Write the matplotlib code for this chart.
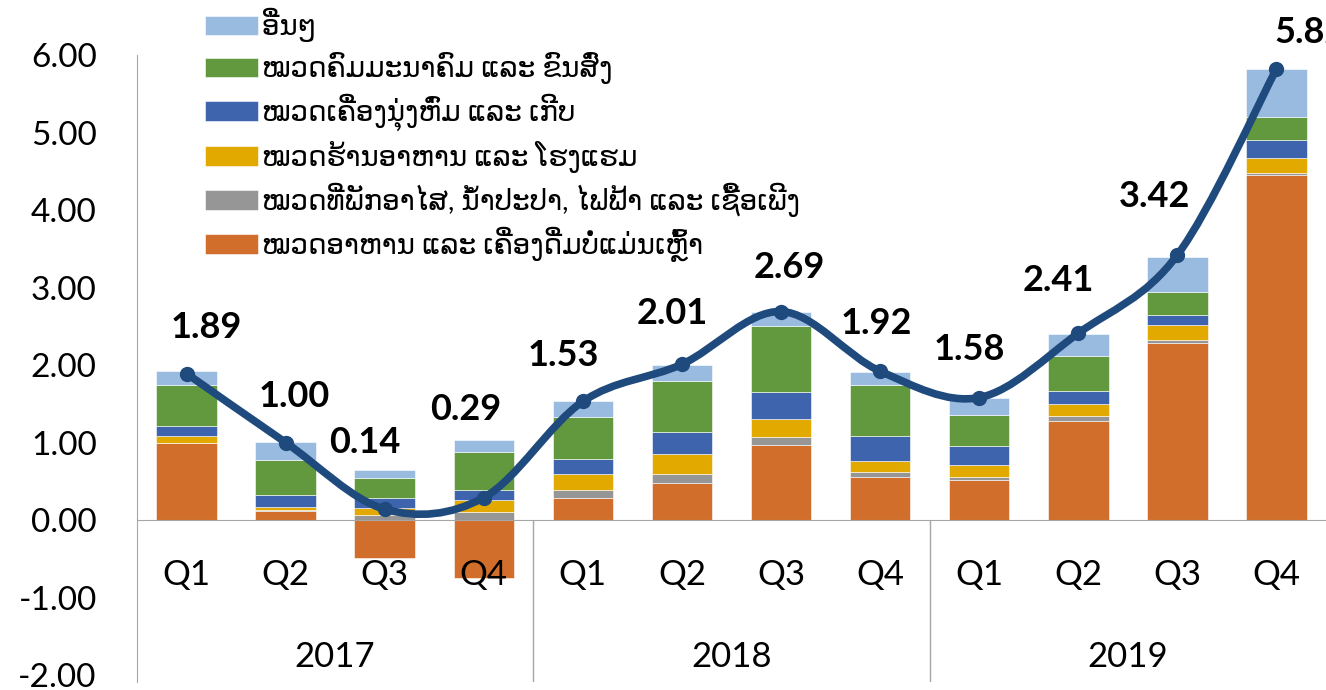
import matplotlib.pyplot as plt
from matplotlib.path import Path
from matplotlib.patches import PathPatch
import numpy as np

# categories
quarters = ['Q1', 'Q2', 'Q3', 'Q4'] * 3
years = ['2017', '2018', '2019']

# contributions per group
food = [0.99, 0.12, -0.49, -0.75, 0.28, 0.48, 0.97, 0.55, 0.51, 1.28, 2.29, 4.45]
housing = [0.00, 0.01, 0.06, 0.10, 0.11, 0.11, 0.10, 0.07, 0.05, 0.06, 0.03, 0.03]
restaurants = [0.10, 0.04, 0.10, 0.16, 0.21, 0.26, 0.23, 0.14, 0.15, 0.16, 0.19, 0.19]
clothing = [0.12, 0.15, 0.12, 0.13, 0.19, 0.29, 0.35, 0.33, 0.25, 0.16, 0.14, 0.23]
transport = [0.53, 0.45, 0.26, 0.49, 0.54, 0.66, 0.85, 0.65, 0.40, 0.45, 0.29, 0.30]
others = [0.18, 0.24, 0.10, 0.15, 0.21, 0.20, 0.18, 0.17, 0.22, 0.29, 0.46, 0.62]

# headline inflation (line)
total = [1.89, 1.00, 0.14, 0.29, 1.53, 2.01, 2.69, 1.92, 1.58, 2.41, 3.42, 5.82]

labels = [
    'ໝວດອາຫານ ແລະ ເຄື່ອງດື່ມບໍ່ແມ່ນເຫຼົ້າ',
    'ໝວດທີ່ພັກອາໄສ, ນ້ຳປະປາ, ໄຟຟ້າ ແລະ ເຊື້ອເພີງ',
    'ໝວດຮ້ານອາຫານ ແລະ ໂຮງແຮມ',
    'ໝວດເຄື່ອງນຸ່ງຫົ່ມ ແລະ ເກີບ',
    'ໝວດຄົມມະນາຄົມ ແລະ ຂົນສົ່ງ',
    'ອື່ນໆ',
]
colors = ['#D26E2B', '#969696', '#E2AA00', '#3D64AD', '#62993E', '#9ABBE0']
line_color = '#1F4A7E'

# hand placed data labels in the original (pixel offsets from the point)
label_dx = [20, 9, -20, -18, -19, -10, 8, -4, -10, -20, -23, 34]
label_dy = [46, 46, 67, 88, 46, 51, 44, 48, 48, 53, 58, 36]

plt.rcParams['font.family'] = ['Lato', 'DejaVu Sans']

fig = plt.figure(figsize=(13.26, 6.9), dpi=100)
ax = fig.add_axes([137 / 1326, 8 / 690, 1189 / 1326, 627 / 690])
ax.set_axisbelow(False)

x = np.arange(len(total))
series = [food, housing, restaurants, clothing, transport, others]
pos_bottom = np.zeros(len(x))
neg_bottom = np.zeros(len(x))
handles = []
for vals, col, lab in zip(series, colors, labels):
    vals = np.array(vals)
    bottom = np.where(vals >= 0, pos_bottom, neg_bottom)
    bars = ax.bar(x, vals, width=0.61, bottom=bottom, color=col, label=lab,
                  edgecolor='white', linewidth=0.4, zorder=2)
    handles.append(bars)
    pos_bottom += np.where(vals >= 0, vals, 0)
    neg_bottom += np.where(vals < 0, vals, 0)

# smoothed line like Excel (cubic bezier through the points)
pts = np.column_stack([x, total]).astype(float)
verts = [pts[0]]
codes = [Path.MOVETO]
n = len(pts)
for i in range(n - 1):
    p0 = pts[max(i - 1, 0)]
    p1 = pts[i]
    p2 = pts[i + 1]
    p3 = pts[min(i + 2, n - 1)]
    verts += [p1 + (p2 - p0) / 6, p2 - (p3 - p1) / 6, p2]
    codes += [Path.CURVE4] * 3
ax.add_patch(PathPatch(Path(verts, codes), fill=False, edgecolor=line_color,
                       linewidth=5.5, capstyle='round', joinstyle='round', zorder=3))
ax.plot(x, total, 'o', color=line_color, markersize=10, zorder=4)

for xi, v, dx, dy in zip(x, total, label_dx, label_dy):
    ax.annotate(f'{v:.2f}', (xi, v), xytext=(dx, dy), textcoords='offset pixels',
                ha='center', va='center', fontsize=26, fontweight='bold',
                annotation_clip=False, zorder=5)

ax.set_xlim(-0.5, len(x) - 0.5)
ax.set_ylim(-2.09, 6.0)
ax.set_yticks(np.arange(-2, 7, 1))
ax.set_yticklabels([f'{t:.2f}' for t in np.arange(-2, 7, 1)])
ax.tick_params(axis='y', length=0, pad=29, labelsize=24)

ax.spines['top'].set_visible(False)
ax.spines['right'].set_visible(False)
ax.spines['left'].set_color('#A6A6A6')
ax.spines['bottom'].set_color('#A6A6A6')
ax.spines['bottom'].set_position(('data', 0))
ax.set_xticks(x)
ax.set_xticklabels(quarters)
ax.tick_params(axis='x', length=0, pad=28, labelsize=25)

# year groups below the quarters
for k, yr in enumerate(years):
    ax.text(k * 4 + 1.5, -1.77, yr, ha='center', va='center', fontsize=25)
ax.vlines([3.5, 7.5], -2.09, 0, color='#A6A6A6', linewidth=1, zorder=1)

ax.legend(handles[::-1], labels[::-1], loc='upper left',
          bbox_to_anchor=(205 / 1326, 1 - 8 / 690), bbox_transform=fig.transFigure,
          frameon=False, fontsize=20, handlelength=1.9, handleheight=0.7,
          handletextpad=0.15, labelspacing=0.35, borderpad=0, borderaxespad=0)

fig.savefig('out.png', dpi=100)
